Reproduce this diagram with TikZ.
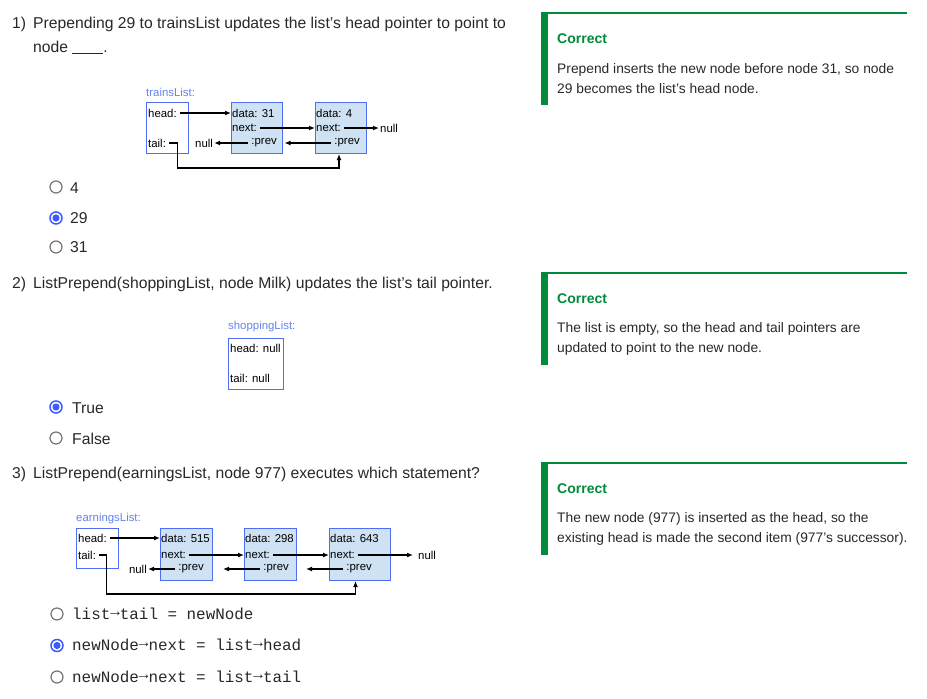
\documentclass[tikz,border=0pt]{standalone}
\usepackage{fontspec}
\setmainfont{Liberation Sans}
\setmonofont{Liberation Mono}
\usetikzlibrary{arrows.meta}

\definecolor{qtext}{RGB}{40,40,40}
\definecolor{boxblue}{RGB}{77,110,245}
\definecolor{cellblue}{RGB}{207,226,243}
\definecolor{namblue}{RGB}{100,130,240}
\definecolor{okgreen}{RGB}{0,138,58}
\definecolor{radioblue}{RGB}{61,90,254}
\definecolor{radiogray}{RGB}{117,117,117}
\newcommand{\ptrto}{\raisebox{2.5pt}{→}}

\begin{document}
\begin{tikzpicture}[x=1pt,y=-1pt]
	\tikzset{
		question/.style={anchor=base west, inner sep=0pt, text=qtext, font=\fontsize{15.7}{19}\selectfont},
		answer/.style={anchor=base west, inner sep=0pt, text=qtext, font=\fontsize{15.7}{19}\selectfont},
		code/.style={anchor=base west, inner sep=0pt, text=qtext, font=\fontsize{15.9}{19}\selectfont\ttfamily},
		radio/.style={circle, draw=radiogray, line width=1.2pt, minimum size=12pt, inner sep=0pt},
		radioon/.style={circle, draw=radioblue, line width=1.5pt, minimum size=12pt, inner sep=0pt,
			path picture={\fill[radioblue] (path picture bounding box.center) circle (3.6pt);}},
		okhead/.style={anchor=base west, inner sep=0pt, text=okgreen, font=\fontsize{14}{17}\selectfont\bfseries},
		oktext/.style={anchor=base west, inner sep=0pt, text=qtext, font=\fontsize{13.8}{17}\selectfont},
		listname/.style={anchor=west, inner sep=0pt, text=namblue, font=\fontsize{11.4}{13}\selectfont},
		listbox/.style={draw=boxblue, line width=1pt, fill=white, anchor=north west, inner sep=0pt},
		cellbox/.style={draw=boxblue, line width=1pt, fill=cellblue, anchor=north west, inner sep=0pt},
		field/.style={anchor=west, inner sep=1pt, font=\fontsize{11.4}{13}\selectfont},
		ptr/.style={-{Latex[length=6pt,width=5pt]}, line width=1.2pt},
	}
	\useasboundingbox (0,0) rectangle (927,699);

	%% QUESTION 1
	\node[question] (Q1num) at (12,28) {1)};
	\node[question] (Q1a) at (33,28) {Prepending 29 to trainsList updates the list's head pointer to point to};
	\node[question] (Q1b) at (33,52) {node \rule[-1.5pt]{31pt}{0.6pt}.};

	\node[listname] (trainsName) at (146,92) {trainsList:};
	\node[listbox, minimum width=42, minimum height=51] (trains) at (146,102) {};
	\node[cellbox, minimum width=51, minimum height=51] (T31) at (231,102) {};
	\node[cellbox, minimum width=51, minimum height=51] (T4) at (315,102) {};

	\node[field] (trainsHead) at (147,113) {head:};
	\node[field] (trainsTail) at (147,143) {tail:};
	\node[field] (T31data) at (231,113) {data: 31};
	\node[field] (T31next) at (231,128) {next:};
	\node[field, anchor=east] (T31prev) at (278,143) {:prev};
	\node[field] (T4data) at (315,113) {data: 4};
	\node[field] (T4next) at (315,128) {next:};
	\node[field, anchor=east] (T4prev) at (361,143) {:prev};
	\node[field] (TnullR) at (379,128) {null};
	\node[field] (TnullL) at (194,143) {null};

	\draw[ptr] ([xshift=2pt]trainsHead.east) -- (T31data.west);
	\draw[ptr] ([xshift=2pt]T31next.east) -- (T4next.west);
	\draw[ptr] ([xshift=2pt]T4next.east) -- (TnullR.west);
	\draw[ptr] ([xshift=-2pt]T4prev.west) -- ([xshift=1.5pt]T4prev -| T31.east);
	\draw[ptr] ([xshift=-2pt]T31prev.west) -- (TnullL.east);
	\draw[ptr] ([xshift=2pt]trainsTail.east) -- ++(8,0) -- ++(0,25) -| ([xshift=-2pt]T4.south);

	\node[radio] (R1a) at (56,187) {};
	\node[answer] (A1a) at (70,193) {4};
	\node[radioon] (R1b) at (56,218) {};
	\node[answer] (A1b) at (70,223) {29};
	\node[radio] (R1c) at (56,247) {};
	\node[answer] (A1c) at (70,252) {31};

	%% QUESTION 2
	\node[question] (Q2num) at (12,288) {2)};
	\node[question] (Q2a) at (33,288) {ListPrepend(shoppingList, node Milk) updates the list's tail pointer.};

	\node[listname] (shopName) at (228,327) {shoppingList:};
	\node[listbox, minimum width=55, minimum height=51] (shop) at (228,338) {};
	\node[field] (shopHead) at (229,348) {head: null};
	\node[field] (shopTail) at (229,378) {tail: null};

	\node[radioon] (R2a) at (56,407) {};
	\node[answer] (A2a) at (72,413) {True};
	\node[radio] (R2b) at (56,438) {};
	\node[answer] (A2b) at (72,444) {False};

	%% QUESTION 3
	\node[question] (Q3num) at (12,478) {3)};
	\node[question] (Q3a) at (33,478) {ListPrepend(earningsList, node 977) executes which statement?};

	\node[listname] (earnName) at (76,519) {earningsList:};
	\node[listbox, minimum width=42, minimum height=40] (earn) at (76,528) {};
	\node[cellbox, minimum width=52, minimum height=52] (E515) at (160,528) {};
	\node[cellbox, minimum width=52, minimum height=52] (E298) at (244,528) {};
	\node[cellbox, minimum width=61, minimum height=52] (E643) at (329,528) {};

	\node[field] (earnHead) at (77,538) {head:};
	\node[field] (earnTail) at (77,555) {tail:};
	\node[field] (E515data) at (160,538) {data: 515};
	\node[field] (E515next) at (160,555) {next:};
	\node[field, anchor=east] (E515prev) at (205,569) {:prev};
	\node[field] (E298data) at (244,538) {data: 298};
	\node[field] (E298next) at (244,555) {next:};
	\node[field, anchor=east] (E298prev) at (290,569) {:prev};
	\node[field] (E643data) at (329,538) {data: 643};
	\node[field] (E643next) at (329,555) {next:};
	\node[field, anchor=east] (E643prev) at (373,569) {:prev};
	\node[field] (EnullR) at (417,555) {null};
	\node[field, anchor=east] (EnullL) at (148,569) {null};

	\draw[ptr] ([xshift=2pt]earnHead.east) -- (E515data.west);
	\draw[ptr] ([xshift=2pt]E515next.east) -- (E298next.west);
	\draw[ptr] ([xshift=2pt]E298next.east) -- (E643next.west);
	\draw[ptr] ([xshift=2pt]E643next.east) -- ([xshift=-4pt]EnullR.west);
	\draw[ptr] ([xshift=-2pt]E643prev.west) -- ([xshift=9pt]E643prev -| E298.east);
	\draw[ptr] ([xshift=-2pt]E298prev.west) -- ([xshift=10pt]E298prev -| E515.east);
	\draw[ptr] ([xshift=-2pt]E515prev.west) -- (EnullL.east);
	\draw[ptr] ([xshift=2pt]earnTail.east) -- ++(7,0) -- ++(0,39) -| ([xshift=-4.5pt]E643.south);

	\node[radio] (R3a) at (57,614) {};
	\node[code] (A3a) at (72,619) {list\ptrto tail = newNode};
	\node[radioon] (R3b) at (57,645.5) {};
	\node[code] (A3b) at (72,650) {newNode\ptrto next = list\ptrto head};
	\node[radio] (R3c) at (57,677) {};
	\node[code] (A3c) at (72,682) {newNode\ptrto next = list\ptrto tail};

	%% FEEDBACK PANELS
	\foreach \top in {12,272,462} {
		\fill[okgreen] (541,\top) rectangle (548,\top+93);
		\fill[okgreen] (541,\top) rectangle (907,\top+2);
	}
	\node[okhead] (C1) at (557,43) {Correct};
	\node[oktext] (C1a) at (557,73) {Prepend inserts the new node before node 31, so node};
	\node[oktext] (C1b) at (557,93) {29 becomes the list's head node.};
	\node[okhead] (C2) at (557,303) {Correct};
	\node[oktext] (C2a) at (557,332) {The list is empty, so the head and tail pointers are};
	\node[oktext] (C2b) at (557,352) {updated to point to the new node.};
	\node[okhead] (C3) at (557,493) {Correct};
	\node[oktext] (C3a) at (557,522) {The new node (977) is inserted as the head, so the};
	\node[oktext] (C3b) at (557,542) {existing head is made the second item (977's successor).};
\end{tikzpicture}
\end{document}
